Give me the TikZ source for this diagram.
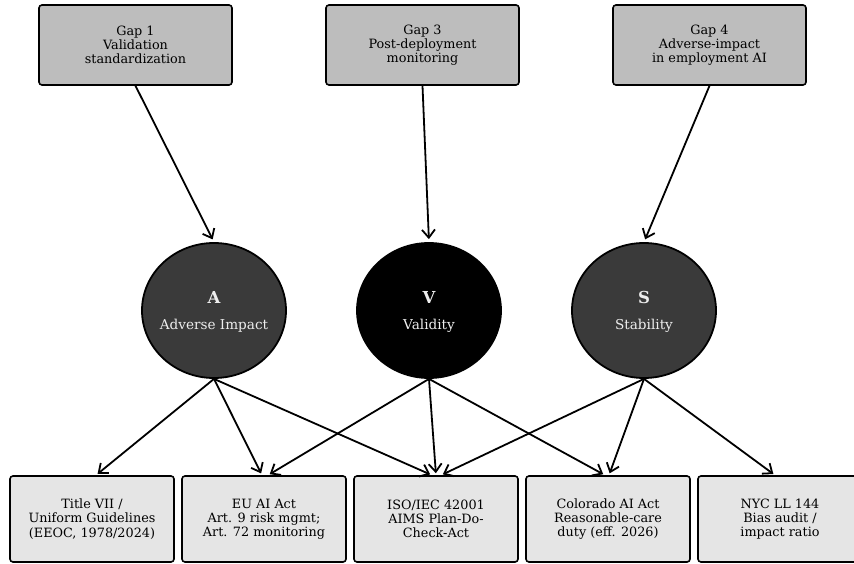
\documentclass[tikz,border=0pt]{standalone}
\usepackage{fontspec}
\setmainfont{DejaVu Serif}
\usetikzlibrary{arrows.meta,shapes.geometric}
\definecolor{gapfill}{HTML}{BDBDBD}
\definecolor{lawfill}{HTML}{E5E5E5}
\definecolor{dimfill}{HTML}{3A3A3A}
\definecolor{lighttext}{HTML}{EEEEEE}
\begin{document}
\begin{tikzpicture}[x=1pt,y=-1pt,
  txt/.style={font=\fontsize{12.8}{14.2}\selectfont, align=center},
  gapbox/.style={txt, draw=black, line width=1.6pt, fill=gapfill, rounded corners=3pt, minimum width=193pt, minimum height=80pt, inner sep=0pt},
  lawbox/.style={txt, draw=black, line width=1.6pt, fill=lawfill, rounded corners=3pt, minimum width=164pt, minimum height=86pt, inner sep=0pt},
  dim/.style={ellipse, draw=black, line width=1.8pt, minimum width=144pt, minimum height=135pt, inner sep=0pt},
  letter/.style={font=\fontsize{16.5}{18}\selectfont\bfseries, text=lighttext},
  dimname/.style={font=\fontsize{13.6}{15}\selectfont, text=lighttext},
  arr/.style={-{Straight Barb[length=8pt,width=13pt]}, line width=1.8pt, shorten >=2pt}
]
\clip (0,0) rectangle (854,564);
% gap boxes
\node[gapbox] (g1) at (135.5,45) {Gap 1\\Validation\\standardization};
\node[gapbox] (g3) at (422.5,45) {Gap 3\\Post-deployment\\monitoring};
\node[gapbox] (g4) at (709.5,45) {Gap 4\\Adverse-impact\\in employment AI};
% dimensions
\node[dim, fill=dimfill] (A) at (214,310.5) {};
\node[dim, fill=black] (V) at (429,310.5) {};
\node[dim, fill=dimfill] (S) at (644,310.5) {};
\node[letter] (Al) at (214,297) {A};
\node[dimname] (An) at (214,326) {Adverse Impact};
\node[letter] (Vl) at (429,297) {V};
\node[dimname] (Vn) at (429,326) {Validity};
\node[letter] (Sl) at (644,297) {S};
\node[dimname] (Sn) at (644,326) {Stability};
% law boxes
\node[lawbox] (l1) at (92,519) {Title VII /\\Uniform Guidelines\\(EEOC, 1978/2024)};
\node[lawbox] (l2) at (264,519) {EU AI Act\\Art. 9 risk mgmt;\\Art. 72 monitoring};
\node[lawbox] (l3) at (436,519) {ISO/IEC 42001\\AIMS Plan-Do-\\Check-Act};
\node[lawbox] (l4) at (608,519) {Colorado AI Act\\Reasonable-care\\duty (eff. 2026)};
\node[lawbox] (l5) at (780,519) {NYC LL 144\\Bias audit /\\impact ratio};
% gap -> dimension
\draw[arr, shorten >=3pt] (g1.south) -- (A.north);
\draw[arr, shorten >=3pt] (g3.south) -- (V.north);
\draw[arr, shorten >=3pt] (g4.south) -- (S.north);
% dimension -> law
\draw[arr] (A.south) -- ([xshift=4pt]l1.north);
\draw[arr] (A.south) -- ([xshift=-2pt]l2.north);
\draw[arr] (A.south) -- ([xshift=-4pt]l3.north);
\draw[arr] (V.south) -- ([xshift=4pt]l2.north);
\draw[arr] (V.south) -- (l3.north);
\draw[arr] (V.south) -- ([xshift=-3pt]l4.north);
\draw[arr] (S.south) -- ([xshift=5pt]l3.north);
\draw[arr] (S.south) -- ([xshift=1pt]l4.north);
\draw[arr] (S.south) -- ([xshift=-5pt]l5.north);
\end{tikzpicture}
\end{document}
